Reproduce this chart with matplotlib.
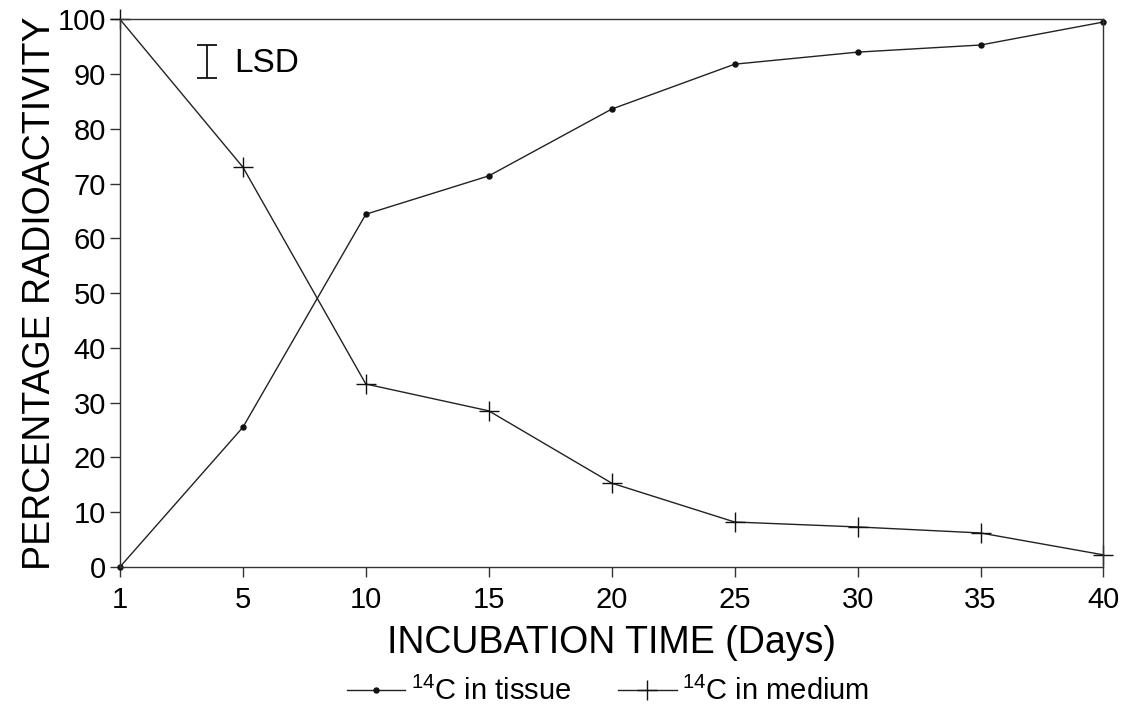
''' 14C distribution between tissue and medium over incubation time '''
import matplotlib
matplotlib.use('Agg')
import matplotlib.pyplot as plt

plt.rcParams['font.family'] = ['Liberation Sans', 'DejaVu Sans']
plt.rcParams['mathtext.fontset'] = 'custom'
plt.rcParams['mathtext.rm'] = 'Liberation Sans'

# data
days = ['1', '5', '10', '15', '20', '25', '30', '35', '40']
tissue = [0, 25.5, 64.4, 71.4, 83.6, 91.8, 94.0, 95.3, 99.5]
medium = [100, 73, 33.4, 28.5, 15.3, 8.2, 7.3, 6.2, 2.2]
lsd = 6.0  # length of the LSD bar

x = list(range(len(days)))

fig = plt.figure(figsize=(11.37, 7.14), dpi=100)
ax = fig.add_axes([0.1055, 0.206, 0.865, 0.767])

ax.plot(x, tissue, color='#222222', lw=1.0, marker='o', ms=3.6,
        mec='#111111', mfc='#111111', clip_on=False, label=r'$^{14}$C in tissue')
ax.plot(x, medium, color='#222222', lw=1.0, marker='+', ms=15, mew=1.0,
        mec='#111111', clip_on=False, label=r'$^{14}$C in medium')

# LSD bar
ax.errorbar([0.71], [92.3], yerr=[lsd / 2], color='#111111', lw=1.3,
            capsize=7, capthick=1.3)
ax.text(0.93, 92.0, 'LSD', fontsize=24, va='center', ha='left')

ax.set_xlim(0, 8)
ax.set_ylim(0, 100)
ax.set_xticks(x)
ax.set_xticklabels(days)
ax.set_yticks(range(0, 101, 10))
ax.tick_params(axis='both', labelsize=21, direction='out', length=7,
               width=1.0, color='#333333')
ax.tick_params(axis='x', pad=7)
ax.tick_params(axis='y', pad=3)

for s in ax.spines.values():
    s.set_linewidth(1.0)
    s.set_color('#333333')

ax.set_xlabel('INCUBATION TIME (Days)', fontsize=27, labelpad=8)
ax.set_ylabel('PERCENTAGE RADIOACTIVITY', fontsize=27, labelpad=0)

fig.legend(loc='center', bbox_to_anchor=(0.535, 0.032), ncol=2, frameon=False,
           fontsize=21, handlelength=2.0, handletextpad=0.2, columnspacing=1.6)

plt.savefig('out.png', dpi=100)
